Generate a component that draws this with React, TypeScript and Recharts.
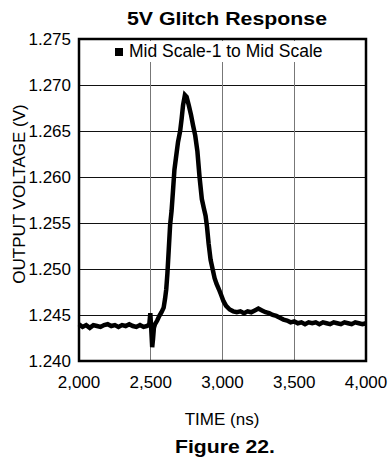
import { LineChart, Line, XAxis, YAxis, CartesianGrid, ReferenceArea } from "recharts";

// time axis (ns) and measured output voltage (V)
const timeNs = [
  2000, 2025, 2050, 2075, 2100, 2125, 2150, 2175, 2200, 2225, 2250, 2275, 2300, 2325, 2350, 2375,
  2400, 2425, 2450, 2475, 2490, 2497, 2503, 2510, 2516, 2522, 2530, 2545, 2560, 2575, 2590, 2600,
  2608, 2616, 2625, 2635, 2645, 2655, 2665, 2675, 2690, 2705, 2715, 2725, 2738, 2750, 2765, 2780,
  2795, 2810, 2825, 2840, 2856, 2870, 2882, 2892, 2903, 2917, 2931, 2945, 2958, 2975, 2990, 3007,
  3025, 3050, 3075, 3100, 3125, 3150, 3175, 3200, 3225, 3250, 3275, 3300, 3325, 3350, 3375, 3400,
  3425, 3450, 3475, 3500, 3525, 3550, 3575, 3600, 3625, 3650, 3675, 3700, 3725, 3750, 3775, 3800,
  3825, 3850, 3875, 3900, 3925, 3950, 3975, 4000,
];
const outputV = [
  1.2440, 1.2437, 1.2439, 1.2436, 1.2439, 1.2438, 1.2437, 1.2439, 1.2440, 1.2438, 1.2439, 1.2437, 1.2439, 1.2438, 1.2440, 1.2438,
  1.2437, 1.2439, 1.2437, 1.2438, 1.2440, 1.2452, 1.2436, 1.2415, 1.2424, 1.2436, 1.2440, 1.2444, 1.2449, 1.2453, 1.2458, 1.2468,
  1.2478, 1.2495, 1.2520, 1.2548, 1.2563, 1.2585, 1.2608, 1.2620, 1.2638, 1.2650, 1.2663, 1.2678, 1.2689, 1.2687, 1.2678, 1.2668,
  1.2656, 1.2645, 1.2628, 1.2600, 1.2576, 1.2566, 1.2558, 1.2546, 1.2528, 1.2510, 1.2500, 1.2490, 1.2484, 1.2478, 1.2472, 1.2465,
  1.2460, 1.2456, 1.2454, 1.2453, 1.2454, 1.2452, 1.2454, 1.2453, 1.2455, 1.2457, 1.2455, 1.2453, 1.2452, 1.2450, 1.2449, 1.2447,
  1.2445, 1.2444, 1.2442, 1.2443, 1.2441, 1.2442, 1.2440, 1.2442, 1.2441, 1.2442, 1.2440, 1.2442, 1.2441, 1.2440, 1.2442, 1.2441,
  1.2440, 1.2442, 1.2441, 1.2440, 1.2442, 1.2441, 1.2440, 1.2441,
];

const xTicks = [2000, 2500, 3000, 3500, 4000];
const yTicks = [1.24, 1.245, 1.25, 1.255, 1.26, 1.265, 1.27, 1.275];

const data = timeNs.map((t, i) => ({ t, v: outputV[i] }));
const font = '"Liberation Sans", Arial, sans-serif';

export default function App() {
  return (
    <div style={{ position: "relative", width: 391, height: 459, fontFamily: font, background: "#fff" }}>
      <style>{"body{margin:0}"}</style>
      <LineChart width={391} height={459} data={data} margin={{ top: 39, right: 25, bottom: 68, left: 0 }}>
        <CartesianGrid vertical={false} stroke="#111" strokeWidth={1} shapeRendering="crispEdges" />
        <CartesianGrid horizontal={false} stroke="#777" strokeWidth={1} shapeRendering="crispEdges" />
        <XAxis
          dataKey="t"
          type="number"
          domain={[2000, 4000]}
          ticks={xTicks}
          height={30}
          axisLine={false}
          tickLine={false}
          tickSize={0}
          tickMargin={15}
          tickFormatter={(v: number) => v.toLocaleString("en-US")}
          tick={{ fill: "#000", fontSize: 17, fontFamily: font }}
        />
        <YAxis
          type="number"
          domain={[1.24, 1.275]}
          ticks={yTicks}
          width={79}
          axisLine={false}
          tickLine={false}
          tickSize={0}
          tickMargin={8}
          tickFormatter={(v: number) => v.toFixed(3)}
          tick={{ fill: "#000", fontSize: 17, fontFamily: font }}
        />
        <Line dataKey="v" type="linear" stroke="#000" strokeWidth={4.5} dot={false} isAnimationActive={false} />
        <ReferenceArea x1={2000} x2={4000} y1={1.24} y2={1.275} fill="none" stroke="#000" strokeWidth={2.5} ifOverflow="visible" />
      </LineChart>

      {/* legend box */}
      <div style={{ position: "absolute", left: 110, top: 41, width: 220, height: 21, background: "#fff", display: "flex", alignItems: "center" }}>
        <div style={{ width: 8, height: 8, background: "#000", marginLeft: 5, marginRight: 6 }} />
        <span style={{ fontSize: 17.5, color: "#000", whiteSpace: "nowrap" }}>Mid Scale-1 to Mid Scale</span>
      </div>

      <svg width={391} height={459} style={{ position: "absolute", left: 0, top: 0, pointerEvents: "none" }}>
        <text x={227} y={25} textAnchor="middle" fontSize={18} fontWeight="bold" fontFamily={font} textLength={200} lengthAdjust="spacingAndGlyphs">
          5V Glitch Response
        </text>
        <text x={25} y={194} textAnchor="middle" fontSize={17} fontFamily={font} transform="rotate(-90 25 194)">
          OUTPUT VOLTAGE (V)
        </text>
        <text x={222} y={425} textAnchor="middle" fontSize={17} fontFamily={font}>
          TIME (ns)
        </text>
        <text x={225} y={453} textAnchor="middle" fontSize={19} fontWeight="bold" fontFamily={font} textLength={100} lengthAdjust="spacingAndGlyphs">
          Figure 22.
        </text>
      </svg>
    </div>
  );
}
